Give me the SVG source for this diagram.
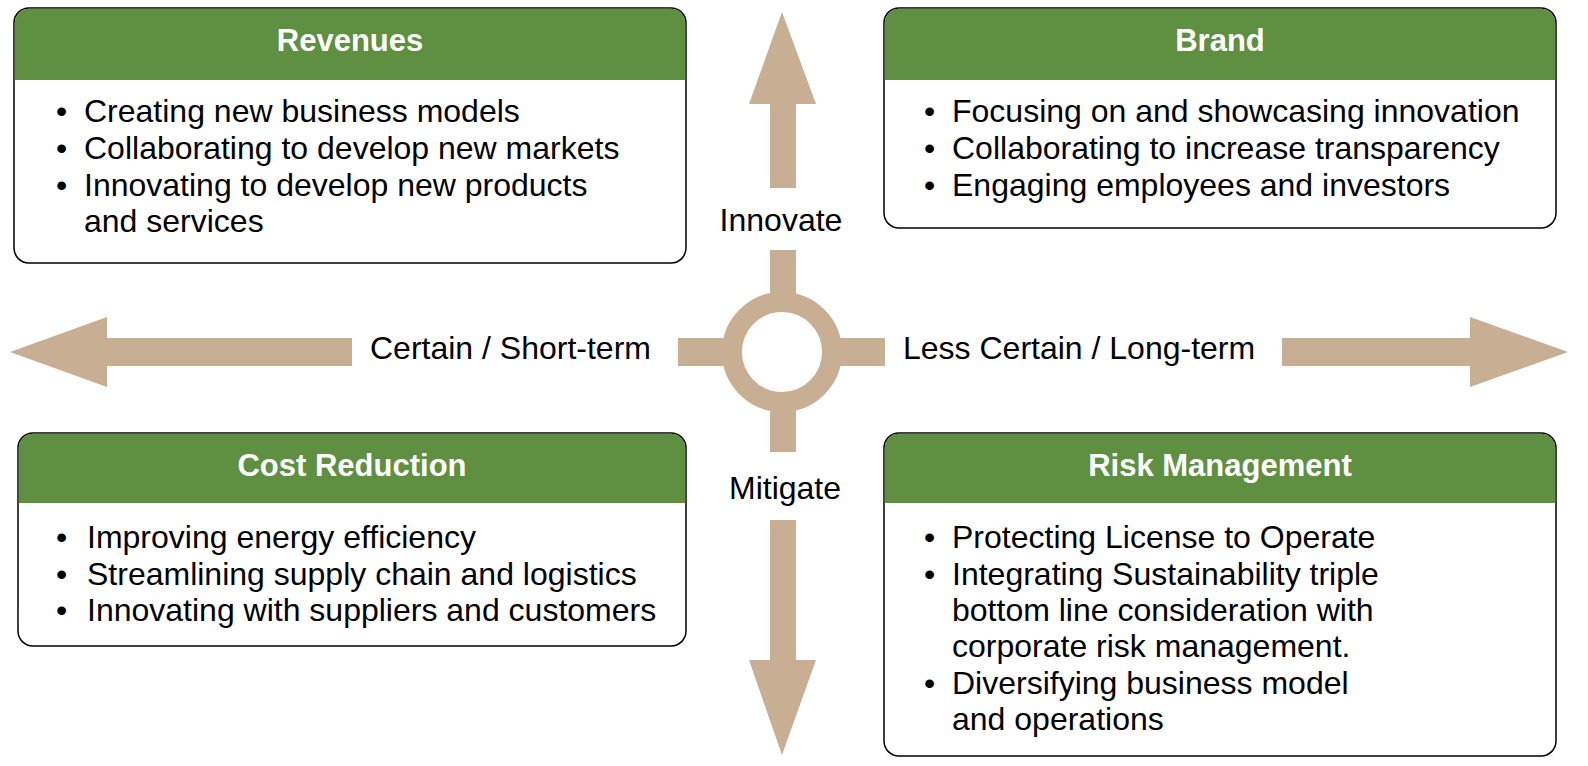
<svg xmlns="http://www.w3.org/2000/svg" width="1588" height="766" viewBox="0 0 1588 766">
<style>
.box{fill:#ffffff;stroke:#000000;stroke-width:1.5}
.hdr{fill:#5f8f41}
.ht{font-family:"Liberation Sans",Arial,sans-serif;font-size:31px;font-weight:bold;fill:#ffffff;text-anchor:middle}
.bt{font-family:"Liberation Sans",Arial,sans-serif;font-size:32px;fill:#000000}
.lbl{font-family:"Liberation Sans",Arial,sans-serif;font-size:32px;fill:#000000}
.arr{fill:#c8ae93}
</style>
<rect width="1588" height="766" fill="#ffffff"/>
<g id="connectors">
<polygon class="arr" points="782,12 816,104 796,104 796,188 770,188 770,104 749,104"/>
<polygon class="arr" points="770,520 796,520 796,660 816,660 782,755 749,660 770,660"/>
<polygon class="arr" points="10,352 107,317 107,338 352,338 352,366 107,366 107,387"/>
<polygon class="arr" points="1282,338 1470,338 1470,317 1568,352 1470,387 1470,366 1282,366"/>
<rect class="arr" x="770" y="250" width="26" height="48"/>
<rect class="arr" x="770" y="406" width="26" height="46"/>
<rect class="arr" x="678" y="338" width="50" height="28"/>
<rect class="arr" x="836" y="338" width="49" height="28"/>
<circle cx="782" cy="352" r="50" fill="none" stroke="#c8ae93" stroke-width="20"/>
<text class="lbl" x="781" y="231" text-anchor="middle">Innovate</text>
<text class="lbl" x="785" y="499" text-anchor="middle">Mitigate</text>
<text class="lbl" x="370" y="359">Certain / Short-term</text>
<text class="lbl" x="903" y="359">Less Certain / Long-term</text>
</g>
<g id="revenues">
<rect class="box" x="14" y="8" width="672" height="255" rx="15"/>
<path class="hdr" d="M14.75,80 V23 A14.25,14.25 0 0 1 29,8.75 H671 A14.25,14.25 0 0 1 685.25,23 V80 Z"/>
<text class="ht" x="350" y="51">Revenues</text>
<text class="bt"><tspan x="56" y="122">•</tspan><tspan x="84" y="122">Creating new business models</tspan></text>
<text class="bt"><tspan x="56" y="159">•</tspan><tspan x="84" y="159">Collaborating to develop new markets</tspan></text>
<text class="bt"><tspan x="56" y="196">•</tspan><tspan x="84" y="196">Innovating to develop new products</tspan></text>
<text class="bt" x="84" y="232">and services</text>
</g>
<g id="brand">
<rect class="box" x="884" y="8" width="672" height="220" rx="15"/>
<path class="hdr" d="M884.75,80 V23 A14.25,14.25 0 0 1 899,8.75 H1541 A14.25,14.25 0 0 1 1555.25,23 V80 Z"/>
<text class="ht" x="1220" y="51">Brand</text>
<text class="bt"><tspan x="924" y="122">•</tspan><tspan x="952" y="122">Focusing on and showcasing innovation</tspan></text>
<text class="bt"><tspan x="924" y="159">•</tspan><tspan x="952" y="159">Collaborating to increase transparency</tspan></text>
<text class="bt"><tspan x="924" y="196">•</tspan><tspan x="952" y="196">Engaging employees and investors</tspan></text>
</g>
<g id="cost-reduction">
<rect class="box" x="18" y="433" width="668" height="213" rx="15"/>
<path class="hdr" d="M18.75,503 V448 A14.25,14.25 0 0 1 33,433.75 H671 A14.25,14.25 0 0 1 685.25,448 V503 Z"/>
<text class="ht" x="352" y="476">Cost Reduction</text>
<text class="bt"><tspan x="56" y="548">•</tspan><tspan x="87" y="548">Improving energy efficiency</tspan></text>
<text class="bt"><tspan x="56" y="585">•</tspan><tspan x="87" y="585">Streamlining supply chain and logistics</tspan></text>
<text class="bt"><tspan x="56" y="621">•</tspan><tspan x="87" y="621">Innovating with suppliers and customers</tspan></text>
</g>
<g id="risk-management">
<rect class="box" x="884" y="433" width="672" height="323" rx="15"/>
<path class="hdr" d="M884.75,503 V448 A14.25,14.25 0 0 1 899,433.75 H1541 A14.25,14.25 0 0 1 1555.25,448 V503 Z"/>
<text class="ht" x="1220" y="476">Risk Management</text>
<text class="bt"><tspan x="924" y="548">•</tspan><tspan x="952" y="548">Protecting License to Operate</tspan></text>
<text class="bt"><tspan x="924" y="585">•</tspan><tspan x="952" y="585">Integrating Sustainability triple</tspan></text>
<text class="bt" x="952" y="621">bottom line consideration with</text>
<text class="bt" x="952" y="657">corporate risk management.</text>
<text class="bt"><tspan x="924" y="694">•</tspan><tspan x="952" y="694">Diversifying business model</tspan></text>
<text class="bt" x="952" y="730">and operations</text>
</g>
</svg>
